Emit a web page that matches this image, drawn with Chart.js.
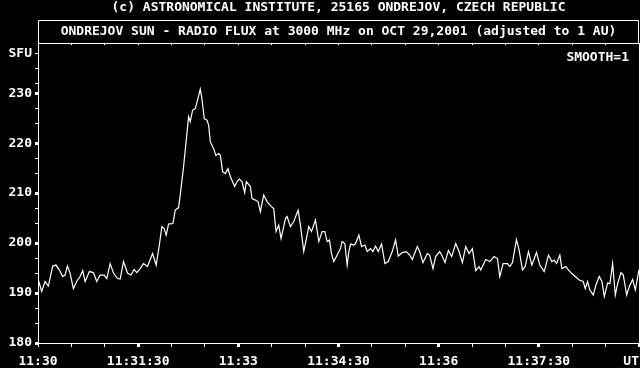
<!DOCTYPE html>
<html>
<head>
<meta charset="utf-8">
<title>Ondrejov Sun - radio flux 3000 MHz</title>
<script src="https://cdn.jsdelivr.net/npm/chart.js@4.4.1/dist/chart.umd.min.js"></script>
<style>
    html, body { margin: 0; padding: 0; background: #000; }
    canvas { display: block; }
</style>
</head>
<body>
<canvas id="fluxChart" width="640" height="368"></canvas>
<script>
// Seconds after 11:30:00 UT
const seconds = [
    0, 3.3, 6.3, 9.3, 13.2, 16.2, 19.2, 22.2, 24.3, 26.4,
    28.8, 31.8, 34.8, 37.8, 40.2, 42.3, 46.2, 49.8, 52.8, 55.8,
    59.4, 61.8, 64.8, 67.8, 71.4, 73.8, 76.8, 80.4, 83.4, 86.4,
    88.8, 91.8, 94.8, 98.4, 102.9, 106.2, 109.2, 111.3, 113.4, 115.2,
    117.3, 121.2, 123.3, 126.3, 127.8, 130.8, 132.9, 135.3,
    136.8, 138.9, 141.3, 143.7, 145.8, 147.3, 149.4, 151.8, 153.3, 154.8,
    157.8, 159.9, 162.3, 163.8, 165.9, 168.3, 170.7, 172.8, 176.7, 178.8,
    180.9, 183.3, 185.7, 187.2, 190.8, 192.3, 195.3, 197.7, 199.8, 202.8,
    205.8, 209.7, 211.8, 213.9, 216.3, 218.4, 222.3, 223.8, 226.8, 229.8,
    233.7, 235.8, 238.8, 240.9, 243.3, 245.7, 249.3, 252.3, 255.3, 257.7,
    259.8, 261.9, 263.7, 265.8, 268.8, 271.8,
    273.3, 275.7, 277.8, 279.3, 280.8, 283.8, 285.3, 288.3, 290.7, 293.7,
    295.8, 298.8, 300.9, 303.3, 305.7, 308.7, 311.7, 314.7, 318.3, 321.3,
    323.7, 327.3, 330.9, 333.9, 336.3, 340.8, 342.9, 345.9, 349.8, 351.9,
    354.9, 357.3, 360.9, 362.7, 365.7, 368.7, 371.7, 375.3, 378.3, 381.3,
    384.3, 387.3, 390.3, 393.3, 396.3, 397.8, 402.3,
    405.9, 409.8, 412.8, 414.9, 417.9, 421.8, 423.9, 426.3, 429.9, 432.3,
    435.3, 437.7, 440.7, 443.7, 447.9, 450.9, 454.8, 458.7, 461.7, 463.8,
    465.9, 468.9, 470.7, 474.3, 476.7, 479.7, 482.7, 486.3, 489.9, 491.7,
    493.8, 495.9, 498.9, 501.3, 504.3, 506.7, 508.8, 511.8, 513.9, 516.3,
    518.7, 520.8, 523.8, 525.9, 528.9, 531.3, 534.3, 536.7, 540
];

// Radio flux in SFU
const flux = [
    192.9, 190.3, 192.3, 191.4, 195.4, 195.6, 194.6, 193.3, 193.6, 195.4,
    194.0, 190.9, 192.3, 193.3, 194.5, 192.3, 194.3, 194.1, 192.3, 193.6,
    193.6, 192.9, 195.9, 194.0, 192.9, 192.8, 196.3, 194.0, 193.6, 194.7,
    194.1, 194.9, 195.9, 195.3, 197.9, 195.6, 199.9, 203.3, 202.9, 201.6,
    203.8, 203.9, 206.6, 207.1, 209.6, 215.3, 219.9, 225.3,
    224.3, 226.6, 226.9, 228.9, 230.8, 228.9, 224.9, 224.6, 223.6, 220.3,
    218.9, 217.5, 217.9, 217.6, 214.3, 213.9, 214.9, 213.3, 211.3, 212.3,
    212.8, 212.3, 210.1, 212.3, 211.3, 208.9, 208.6, 208.3, 206.3, 209.6,
    208.3, 207.3, 206.9, 202.3, 203.6, 200.9, 204.9, 205.3, 203.3, 204.3,
    206.6, 203.6, 198.3, 200.6, 203.3, 202.3, 204.6, 200.3, 202.3, 202.3,
    200.3, 200.6, 197.9, 196.3, 197.6, 198.9,
    200.3, 199.9, 195.6, 198.3, 199.8, 199.6, 199.9, 201.6, 199.3, 199.6,
    198.3, 198.9, 198.3, 199.4, 198.3, 199.8, 195.9, 196.3, 198.3, 200.6,
    197.4, 198.1, 198.3, 197.6, 196.7, 199.3, 198.3, 196.1, 197.9, 197.6,
    194.9, 197.3, 198.3, 197.6, 196.1, 198.5, 197.3, 199.9, 198.3, 196.1,
    199.3, 197.9, 198.9, 194.5, 195.3, 194.6, 196.7,
    196.3, 197.3, 196.9, 193.3, 195.9, 195.9, 195.3, 196.1, 200.7, 198.6,
    194.6, 195.3, 198.3, 195.6, 198.1, 195.6, 194.3, 197.6, 196.3, 196.6,
    195.9, 197.6, 194.9, 195.3, 194.6, 193.9, 193.3, 192.6, 192.3, 190.9,
    192.3, 190.6, 189.6, 191.6, 193.3, 192.3, 189.3, 192.0, 191.9, 195.9,
    189.6, 191.9, 194.1, 193.6, 189.6, 191.3, 192.7, 190.6, 194.7
];

// Axis ticks
const yLabelTicks = [180, 190, 200, 210, 220, 230];
const yMinorTicks = [184, 187, 194, 197, 204, 207, 214, 217, 224, 227, 232, 235];
const yUnitTick = 238;
const yUnitLabel = 'SFU';
const xTickStep = 30;    // seconds
const xLabelStep = 90;   // seconds
const xEnd = 540;
const xEndLabel = 'UT';
const startHour = 11;
const startMinute = 30;

const headerText = '(c) ASTRONOMICAL INSTITUTE, 25165 ONDREJOV, CZECH REPUBLIC';
const titleText = 'ONDREJOV SUN - RADIO FLUX at 3000 MHz on OCT 29,2001 (adjusted to 1 AU)';
const noteText = 'SMOOTH=1';

const FONT = { family: '"DejaVu Sans Mono", "Liberation Mono", monospace', size: 13, weight: 'bold' };

function timeLabel(sec) {
    const total = startHour * 3600 + startMinute * 60 + sec;
    const h = Math.floor(total / 3600);
    const m = String(Math.floor((total % 3600) / 60)).padStart(2, '0');
    const s = total % 60;
    return s === 0 ? h + ':' + m : h + ':' + m + ':' + String(s).padStart(2, '0');
}

// Box around the title line + the SMOOTH note
const framePlugin = {
    id: 'frame',
    afterDraw(chart) {
        const { ctx, chartArea } = chart;
        const left = Math.round(chartArea.left) + 0.5;
        const right = Math.round(chartArea.right) - 0.5;
        const top = Math.round(chartArea.top - 23) + 0.5;
        const bottom = Math.round(chartArea.top) + 0.5;
        ctx.save();
        ctx.strokeStyle = '#fff';
        ctx.lineWidth = 1;
        ctx.beginPath();
        ctx.moveTo(left, bottom);
        ctx.lineTo(left, top);
        ctx.lineTo(right, top);
        ctx.lineTo(right, bottom);
        ctx.stroke();

        ctx.fillStyle = '#fff';
        ctx.font = FONT.weight + ' ' + FONT.size + 'px ' + FONT.family;
        ctx.textAlign = 'right';
        ctx.textBaseline = 'middle';
        ctx.fillText(noteText, chartArea.right - 10, chartArea.top + 14);
        ctx.restore();
    }
};

const points = seconds.map((t, i) => ({ x: t, y: flux[i] }));

new Chart(document.getElementById('fluxChart'), {
    type: 'line',
    data: {
        datasets: [{
            data: points,
            borderColor: '#fff',
            borderWidth: 1.2,
            pointRadius: 0,
            tension: 0,
            fill: false
        }]
    },
    options: {
        responsive: false,
        animation: false,
        layout: { padding: 0 },
        plugins: {
            legend: { display: false },
            tooltip: { enabled: false },
            title: {
                display: true,
                text: headerText,
                color: '#fff',
                font: FONT,
                fullSize: false,
                padding: { top: 0, bottom: 4 }
            },
            subtitle: {
                display: true,
                text: titleText,
                color: '#fff',
                font: FONT,
                fullSize: false,
                padding: { top: 4, bottom: 0 }
            }
        },
        scales: {
            x: {
                type: 'linear',
                position: 'bottom',
                min: 0,
                max: xEnd,
                border: { color: '#fff', width: 1 },
                grid: {
                    drawOnChartArea: false,
                    tickLength: 4,
                    tickColor: '#fff',
                    tickWidth: ctx => (ctx.tick && ctx.tick.value % xLabelStep === 0 && ctx.tick.value > 0 ? 3 : 1)
                },
                ticks: {
                    stepSize: xTickStep,
                    autoSkip: false,
                    maxRotation: 0,
                    minRotation: 0,
                    color: '#fff',
                    font: FONT,
                    padding: 7,
                    callback: v => {
                        if (v === xEnd) return xEndLabel + '  ';
                        return v % xLabelStep === 0 ? timeLabel(v) : '';
                    }
                },
                afterFit: scale => {
                    scale.height = 25;
                    scale.paddingLeft = 0;
                    scale.paddingRight = 0;
                }
            },
            xTop: {
                type: 'linear',
                position: 'top',
                min: 0,
                max: xEnd,
                border: { color: '#fff', width: 1 },
                grid: { drawOnChartArea: false, tickLength: -2, tickColor: '#fff', tickWidth: 1 },
                ticks: { display: false, stepSize: xTickStep, autoSkip: false },
                afterFit: scale => {
                    scale.height = 4;
                    scale.paddingLeft = 0;
                    scale.paddingRight = 0;
                }
            },
            y: {
                type: 'linear',
                position: 'left',
                min: 180,
                max: 240,
                border: { color: '#fff', width: 1 },
                grid: {
                    drawOnChartArea: false,
                    tickLength: 3,
                    tickColor: '#fff',
                    tickWidth: ctx => (ctx.tick && yLabelTicks.includes(ctx.tick.value) ? 3 : 1)
                },
                afterBuildTicks: scale => {
                    const vals = yLabelTicks.concat(yMinorTicks, [yUnitTick]).sort((a, b) => a - b);
                    scale.ticks = vals.map(v => ({ value: v }));
                },
                ticks: {
                    autoSkip: false,
                    color: '#fff',
                    font: FONT,
                    padding: 3,
                    callback: v => {
                        if (v === yUnitTick) return yUnitLabel;
                        return yLabelTicks.includes(v) ? String(v) : '';
                    }
                },
                afterFit: scale => { scale.width = 38; }
            },
            yRight: {
                type: 'linear',
                position: 'right',
                min: 180,
                max: 240,
                border: { color: '#fff', width: 1 },
                grid: { display: false },
                ticks: { display: false },
                afterFit: scale => { scale.width = 1; }
            }
        }
    },
    plugins: [framePlugin]
});
</script>
</body>
</html>
